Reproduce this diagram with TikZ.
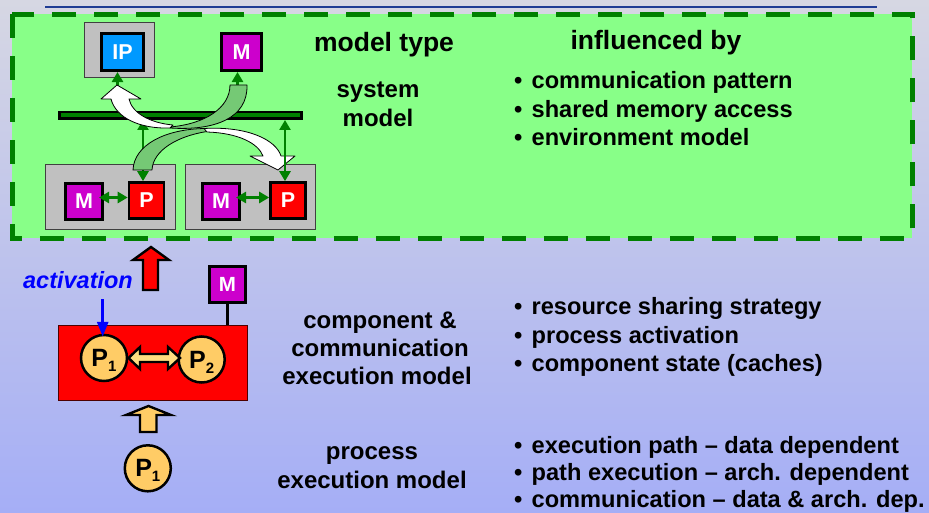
\documentclass[tikz,border=0pt]{standalone}
\usepackage{fontspec}
\setmainfont{Liberation Sans}
\usetikzlibrary{arrows.meta}

\definecolor{bgtop}{HTML}{D6D7E3}
\definecolor{bgbot}{HTML}{A5AEF6}
\definecolor{sysgreen}{HTML}{88FF88}
\definecolor{darkgreen}{HTML}{008000}
\definecolor{ribbon}{HTML}{75C975}
\definecolor{ipblue}{HTML}{0099FF}
\definecolor{memviolet}{HTML}{CC00CC}
\definecolor{boxgray}{HTML}{C0C0C0}
\definecolor{procbeige}{HTML}{FFCC66}
\definecolor{linkbeige}{HTML}{FFDD80}
\definecolor{topline}{HTML}{1F3C94}

\newcommand{\subidx}[1]{\raisebox{-5pt}{\fontsize{15}{15}\selectfont #1}}
\newcommand{\bul}{\makebox[17.5pt][l]{•}}

\begin{document}
\begin{tikzpicture}[x=1pt,y=-1pt,
  grayframe/.style={draw=black!75, line width=0.9pt, fill=boxgray, inner sep=0pt},
  hwbox/.style={draw=black, line width=2.6pt, inner sep=0pt, text=white,
    font=\fontsize{21.5}{21.5}\selectfont\bfseries},
  glink/.style={darkgreen, line width=2.8pt,
    {Triangle[length=10pt,width=11pt]}-{Triangle[length=10pt,width=11pt]}},
  ribbonback/.style={fill=ribbon, draw=black, line width=0.8pt, line join=round},
  ribbonfront/.style={fill=white, draw=black, line width=0.8pt, line join=round},
  blockarrow/.style={draw=black, line width=2.4pt, line join=miter},
  proc/.style={circle, draw=black, line width=2.5pt, fill=procbeige, minimum size=46pt,
    inner sep=0pt, text depth=0pt, font=\fontsize{25}{25}\selectfont\bfseries},
  heading/.style={inner sep=0pt, anchor=base, font=\bfseries\fontsize{26.5}{30}\selectfont},
  label/.style={inner sep=0pt, anchor=base, font=\bfseries\fontsize{24}{28}\selectfont},
  bullet/.style={inner sep=0pt, anchor=base west, font=\bfseries\fontsize{23.6}{28}\selectfont}
]
\useasboundingbox (0,0) rectangle (929,513);

% background
\shade[top color=bgtop, bottom color=bgbot] (0,0) rectangle (929,513);
\draw[topline, line width=1.5pt] (45,7) -- (877,7);

% system model area
\draw[darkgreen, fill=sysgreen, line width=5pt, dash pattern=on 24pt off 18pt]
  (12,14.5) rectangle (912,238.5);

% platform: IP, memory, bus, two processing units
\node[grayframe, minimum width=70pt, minimum height=55pt] (ipframe) at (119,49.5) {};
\node[hwbox, fill=ipblue, minimum width=42.5pt, minimum height=37.5pt] (ip) at (122.5,52) {IP};
\node[hwbox, fill=memviolet, minimum width=40.5pt, minimum height=37.5pt] (mtop) at (241.5,52) {M};
\node[draw=black, line width=2.5pt, fill=darkgreen, minimum width=242pt, minimum height=6.5pt,
  inner sep=0pt] (bus) at (180.5,115.5) {};

\node[grayframe, minimum width=130pt, minimum height=65pt] (frameL) at (110,196.5) {};
\node[grayframe, minimum width=130pt, minimum height=65pt] (frameR) at (250,196.5) {};
\node[hwbox, fill=memviolet, minimum width=37.5pt, minimum height=35.5pt] (mL) at (84,201.5) {M};
\node[hwbox, fill=red, minimum width=35pt, minimum height=36pt] (pL) at (146.5,200.5) {P};
\node[hwbox, fill=memviolet, minimum width=37.5pt, minimum height=35.5pt] (mR) at (221,201.5) {M};
\node[hwbox, fill=red, minimum width=35pt, minimum height=36pt] (pR) at (288,200.5) {P};

% bus connections
\draw[glink] ([xshift=-5pt]ip.south |- bus.north) -- ([xshift=-5pt]ip.south);
\draw[glink] ([xshift=-4pt]mtop.south |- bus.north) -- ([xshift=-4pt]mtop.south);
\draw[glink] ([xshift=-3.5pt]pL.north |- bus.south) -- ([xshift=-3.5pt]pL.north);
\draw[glink] ([yshift=4pt,xshift=-5pt]mL.east) -- ([yshift=4pt]mL.east -| pL.west);
\draw[glink] ([yshift=4pt,xshift=-5pt]mR.east) -- ([yshift=4pt]mR.east -| pR.west);

% communication ribbon: memory -> IP
\path[ribbonback] (230,85) .. controls (230,108) and (205,124) .. (170,127)
  -- (170,128) .. controls (215,131) and (248,118) .. (247,85) -- cycle;
\path[ribbonfront] (170,128) .. controls (140,129) and (116,118) .. (111,99)
  -- (101,99) -- (117,85) -- (141,99) -- (129,99)
  .. controls (132,113) and (150,123) .. (173,125) -- cycle;

% communication ribbon: processor -> processor
\path[ribbonback] (133,170) .. controls (134,145) and (165,129) .. (205,128.5)
  -- (207,131.5) .. controls (178,136) and (153,150) .. (152,170) -- cycle;
\path[ribbonfront] (204,128.5) .. controls (248,126) and (276,140) .. (281,156)
  -- (295,156) -- (278,170) -- (250,156) -- (263,156)
  .. controls (258,143) and (238,133) .. (207,132) -- cycle;

\draw[glink] ([xshift=-3pt]pR.north |- bus.south) -- ([xshift=-3pt]pR.north);

% column headings and system model text
\node[heading] (hmodel) at (384,52) {model type};
\node[heading] (hinfl) at (656,50) {influenced by};
\node[label] (sys1) at (378,98) {system};
\node[label] (sys2) at (378,127) {model};
\node[bullet] (b1) at (514,89) {\bul communication pattern};
\node[bullet] (b2) at (514,117.5) {\bul shared memory access};
\node[bullet] (b3) at (514,146) {\bul environment model};

% component & communication execution model
\node[label] (cm1) at (380,328.5) {component \&};
\node[label] (cm2) at (380,356.5) {communication};
\node[label] (cm3) at (377,384.5) {execution model};
\node[bullet] (b4) at (514,314) {\bul resource sharing strategy};
\node[bullet] (b5) at (514,343) {\bul process activation};
\node[bullet] (b6) at (514,371) {\bul component state (caches)};

% process execution model
\node[label] (pm1) at (372,459) {process};
\node[label] (pm2) at (372,488) {execution model};
\node[bullet] (b7) at (514,453) {\bul execution path – data dependent};
\node[bullet] (b8) at (514,480.5) {\bul path execution – arch. dependent};
\node[bullet] (b9) at (514,507.5) {\bul communication – data \& arch. dep.};

% component with two processes
\node[draw=black!70!red, line width=0.9pt, fill=red, minimum width=189pt, minimum height=75pt,
  inner sep=0pt] (comp) at (152.5,362.8) {};
\node[proc] (p1) at (104,358) {P\subidx{1}};
\node[proc] (p2) at (201.7,359.5) {P\subidx{2}};
\path[blockarrow, fill=linkbeige] (128.5,358) -- (140,347) -- (140,354) -- (168,354)
  -- (168,347) -- (180,358) -- (168,369) -- (168,362) -- (140,362) -- (140,369) -- cycle;

\node[hwbox, fill=memviolet, minimum width=36pt, minimum height=36pt,
  font=\fontsize{20.5}{20.5}\selectfont\bfseries] (mc) at (227.5,284.2) {M};
\draw[black, line width=2.5pt] (mc.south) -- (mc.south |- comp.north);

% activation
\node[inner sep=0pt, anchor=base, text=blue,
  font=\bfseries\itshape\fontsize{23.5}{27}\selectfont] (act) at (78,288) {activation};
\coordinate (acttail) at (102.7,299);
\draw[blue, line width=2.8pt, -{Triangle[length=15pt,width=11pt]}]
  (acttail) -- ([xshift=-1.3pt,yshift=-3pt]p1.north);

% refinement arrows between the levels
\path[blockarrow, fill=red] (143,290) -- (143,260) -- (133,260) -- (151,247) -- (169,260)
  -- (158,260) -- (158,290) -- cycle;
\path[blockarrow, fill=procbeige] (140,432) -- (140,415) -- (126,415) -- (148.5,406) -- (171,415)
  -- (156.5,415) -- (156.5,432) -- cycle;

% single process
\node[proc] (p0) at (147.8,468.3) {P\subidx{1}};
\end{tikzpicture}
\end{document}
